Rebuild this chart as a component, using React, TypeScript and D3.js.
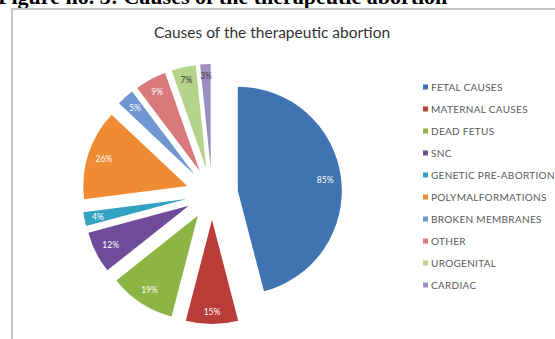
import React from "react";
import * as d3 from "d3";

const categories = [
  "FETAL CAUSES",
  "MATERNAL CAUSES",
  "DEAD FETUS",
  "SNC",
  "GENETIC PRE-ABORTION",
  "POLYMALFORMATIONS",
  "BROKEN MEMBRANES",
  "OTHER",
  "UROGENITAL",
  "CARDIAC",
];
const values = [85, 15, 19, 12, 4, 26, 5, 9, 7, 3];
const labels = ["85%", "15%", "19%", "12%", "4%", "26%", "5%", "9%", "7%", "3%"];
const colors = [
  "#3F73B2",
  "#B93C39",
  "#8DB545",
  "#6E4C99",
  "#33A2C2",
  "#EE8B33",
  "#7097D2",
  "#D9797C",
  "#B3D48A",
  "#9A8FC0",
];
const labelColors = ["#fff", "#fff", "#fff", "#fff", "#fff", "#fff", "#fff", "#fff", "#333", "#444"];

const W = 555;
const H = 339;

export default function App() {
  const cx = 212;
  const cy = 194;
  const r = 104;
  const explode = 26;
  const pie = d3.pie<number>().sort(null).startAngle(0).endAngle(2 * Math.PI);
  const arcs = pie(values);
  const arcGen = d3.arc<d3.PieArcDatum<number>>().innerRadius(0).outerRadius(r);
  const legendY = d3.scalePoint<string>().domain(categories).range([87, 285]);

  return (
    <svg
      width={W}
      height={H}
      style={{ position: "absolute", left: 0, top: 0, display: "block", background: "#fff" }}
    >
      <text
        x={-2}
        y={4}
        fontFamily="Liberation Serif"
        fontWeight="bold"
        fontSize={22}
        fill="#000"
      >
        Figure no. 3: Causes of the therapeutic abortion
      </text>
      <rect x={12} y={9} width={600} height={400} fill="#fff" stroke="#c4c4c4" strokeWidth={2} />
      <text
        x={272}
        y={38}
        textAnchor="middle"
        fontFamily="Lato"
        fontSize={15.5}
        fill="#333"
      >
        Causes of the therapeutic abortion
      </text>
      {arcs.map((a, i) => {
        const mid = (a.startAngle + a.endAngle) / 2;
        const ox = explode * Math.sin(mid);
        const oy = -explode * Math.cos(mid);
        const w = labels[i].length * 5;
        const h = 8;
        const dist = r - 8 - Math.abs(Math.sin(mid)) * w / 2 - Math.abs(Math.cos(mid)) * h / 2;
        const lx = dist * Math.sin(mid);
        const ly = -dist * Math.cos(mid);
        return (
          <g key={i} transform={`translate(${cx + ox},${cy + oy})`}>
            <path d={arcGen(a) || ""} fill={colors[i]} />
            <text
              x={lx}
              y={ly}
              textAnchor="middle"
              dominantBaseline="central"
              fontFamily="Lato"
              fontSize={8.5}
              fill={labelColors[i]}
            >
              {labels[i]}
            </text>
          </g>
        );
      })}
      {categories.map((c, i) => (
        <g key={c} transform={`translate(423,${legendY(c)})`}>
          <rect x={0} y={-2.5} width={5} height={5} fill={colors[i]} />
          <text
            x={8}
            y={0}
            dominantBaseline="central"
            fontFamily="Lato"
            fontSize={10}
            letterSpacing={0.3}
            fill="#595959"
          >
            {c}
          </text>
        </g>
      ))}
    </svg>
  );
}
